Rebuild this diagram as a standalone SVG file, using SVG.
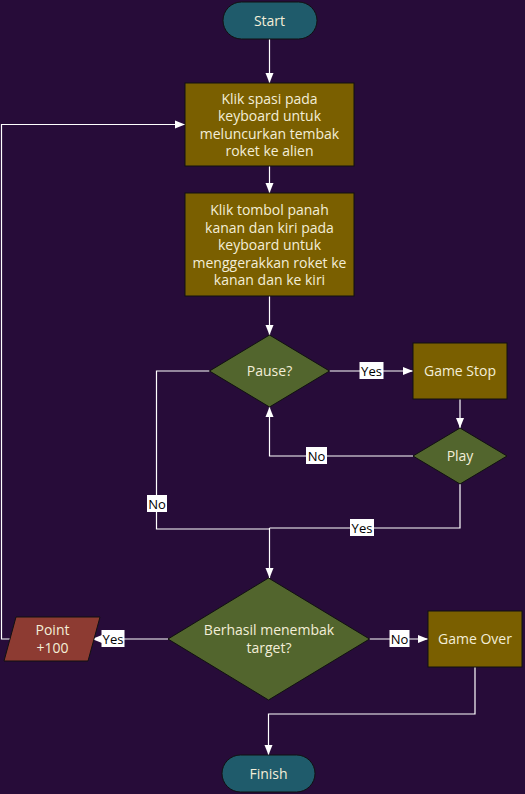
<svg xmlns="http://www.w3.org/2000/svg" width="525" height="794" viewBox="0 0 525 794">
<defs>
<marker id="arr" viewBox="0 0 10 10" refX="10" refY="5" markerWidth="10" markerHeight="10" markerUnits="userSpaceOnUse" orient="auto">
<path d="M0,1 L10,5 L0,9 z" fill="#ffffff"/>
</marker>
<style>
.bg{fill:#270c39}
.term{fill:#1f5b6b;stroke:#111;stroke-width:1}
.proc{fill:#7a5f00;stroke:#111;stroke-width:1}
.dec{fill:#52652d;stroke:#111;stroke-width:1}
.io{fill:#8d3b32;stroke:#111;stroke-width:1}
.t{font-family:"Open Sans","Noto Sans",sans-serif;font-size:14px;fill:#f3eed8;text-anchor:middle;dominant-baseline:central}
.e{fill:none;stroke:#ffffff;stroke-width:1.2;marker-end:url(#arr)}
.en{fill:none;stroke:#ffffff;stroke-width:1.2}
.lb{fill:#ffffff}
.lt{font-family:"Open Sans","Noto Sans",sans-serif;font-size:13px;fill:#000;text-anchor:middle;dominant-baseline:central}
</style>
</defs>
<rect class="bg" x="0" y="0" width="525" height="794"/>
<g id="connectors">
<path class="e" d="M269.5,39 V83"/>
<path class="e" d="M269.5,166 V193"/>
<path class="e" d="M269.5,296 V335"/>
<path class="e" d="M329.5,371 H413"/>
<path class="e" d="M460,399 V428"/>
<path class="e" d="M413,456 H269.5 V407"/>
<path class="en" d="M209.5,371 H156.5 V529 H269.5"/>
<path class="en" d="M460,484 V528 H269.5"/>
<path class="e" d="M269.5,528 V578"/>
<path class="e" d="M168,639 H92"/>
<path class="e" d="M10,639 H1.5 V124.5 H185"/>
<path class="e" d="M369.5,639 H428"/>
<path class="e" d="M475,667 V714 H268.5 V755"/>
<g id="labels">
<rect class="lb" x="359.5" y="362" width="24" height="17"/><text class="lt" x="371.5" y="370.5">Yes</text>
<rect class="lb" x="306" y="447" width="21" height="17"/><text class="lt" x="316.5" y="455.5">No</text>
<rect class="lb" x="147" y="495" width="20" height="17"/><text class="lt" x="157" y="503.5">No</text>
<rect class="lb" x="350" y="519" width="24" height="17"/><text class="lt" x="362" y="527.5">Yes</text>
<rect class="lb" x="101.5" y="630" width="23" height="17"/><text class="lt" x="113" y="638.5">Yes</text>
<rect class="lb" x="389.5" y="630" width="20" height="17"/><text class="lt" x="399.5" y="638.5">No</text>
</g>
</g>
<g id="start"><rect class="term" x="223" y="2" width="94" height="37" rx="18.5"/><text class="t" x="269.5" y="20">Start</text></g>
<g id="klik-spasi"><rect class="proc" x="185" y="83" width="169" height="83"/>
<text class="t" x="269.5" y="98">Klik spasi pada</text>
<text class="t" x="269.5" y="115.5">keyboard untuk</text>
<text class="t" x="269.5" y="133">meluncurkan tembak</text>
<text class="t" x="269.5" y="150.5">roket ke alien</text></g>
<g id="klik-tombol"><rect class="proc" x="185" y="193" width="169" height="103"/>
<text class="t" x="269.5" y="209">Klik tombol panah</text>
<text class="t" x="269.5" y="227">kanan dan kiri pada</text>
<text class="t" x="269.5" y="244.5">keyboard untuk</text>
<text class="t" x="269.5" y="262">menggerakkan roket ke</text>
<text class="t" x="269.5" y="279.5">kanan dan ke kiri</text></g>
<g id="pause"><polygon class="dec" points="269.5,335 329.5,371 269.5,407 209.5,371"/><text class="t" x="269.5" y="370">Pause?</text></g>
<g id="game-stop"><rect class="proc" x="413" y="343" width="94" height="56"/><text class="t" x="460" y="370">Game Stop</text></g>
<g id="play"><polygon class="dec" points="460,428 507,456 460,484 413,456"/><text class="t" x="460" y="455">Play</text></g>
<g id="berhasil"><polygon class="dec" points="268.5,578 369.5,639 268.5,700 168,639"/>
<text class="t" x="269" y="629.5">Berhasil menembak</text>
<text class="t" x="269" y="647">target?</text></g>
<g id="point"><polygon class="io" points="16,617 100,617 88,661 4,661"/>
<text class="t" x="52.5" y="629.5">Point</text>
<text class="t" x="52.5" y="647">+100</text></g>
<g id="game-over"><rect class="proc" x="428" y="611" width="94" height="56"/><text class="t" x="475" y="638">Game Over</text></g>
<g id="finish"><rect class="term" x="222" y="755" width="93" height="37" rx="18.5"/><text class="t" x="268.5" y="773">Finish</text></g>
</svg>
